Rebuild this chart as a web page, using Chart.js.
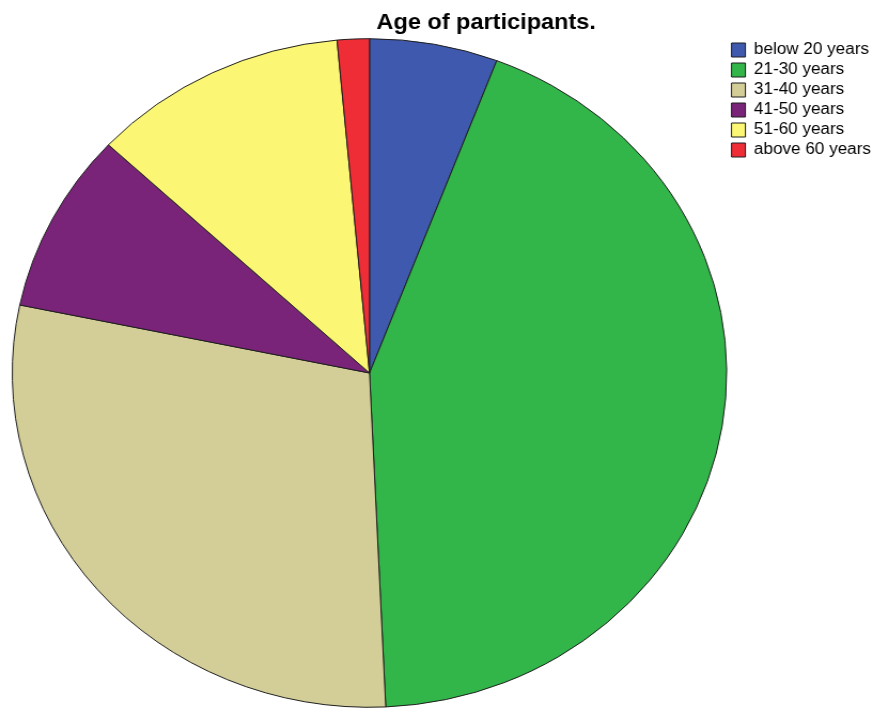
<!DOCTYPE html>
<html>
<head>
<meta charset="utf-8">
<script src="https://cdn.jsdelivr.net/npm/chart.js@4.4.0/dist/chart.umd.min.js"></script>
<style>
  html, body { margin: 0; padding: 0; background: #fff; }
  #ageChart { display: block; }
</style>
</head>
<body>
<!-- inline style so chart.js keeps it: the 817 wide drawing is widened to 873 -->
<canvas id="ageChart" width="817" height="708" style="width:873px;height:708px"></canvas>
<script>
var labels = ["below 20 years", "21-30 years", "31-40 years", "41-50 years", "51-60 years", "above 60 years"];
var counts = [4, 30, 20, 6, 8, 1];
var colors = ["#3e59ad", "#32b64a", "#d3ce97", "#7a2479", "#fbf774", "#ee2d37"];
var chartTitle = "Age of participants.";

// source picture is stretched sideways a bit, so canvas is narrower and css widens it to 873
var titlePlugin = {
  id: 'plainTitle',
  afterDraw: function(chart) {
    var ctx = chart.ctx;
    ctx.save();
    ctx.font = 'bold 22px "Liberation Sans", Arial, sans-serif';
    ctx.fillStyle = '#000';
    ctx.textAlign = 'center';
    ctx.textBaseline = 'alphabetic';
    ctx.fillText(chartTitle, 455, 29);
    ctx.restore();
  }
};

var ctx = document.getElementById("ageChart");
var myChart = new Chart(ctx, {
  type: 'pie',
  data: {
    labels: labels,
    datasets: [{
      data: counts,
      backgroundColor: colors,
      borderColor: '#1e1e1e',
      borderWidth: 1
    }]
  },
  plugins: [titlePlugin],
  options: {
    responsive: false,
    animation: false,
    layout: {
      padding: { left: 11, right: -8, top: 38, bottom: -4 }
    },
    plugins: {
      title: { display: false },
      tooltip: { enabled: false },
      legend: {
        position: 'right',
        align: 'start',
        labels: {
          boxWidth: 13,
          boxHeight: 14,
          padding: 4,
          color: '#000',
          font: { family: '"Liberation Sans", Arial, sans-serif', size: 16 }
        }
      }
    }
  }
});
</script>
</body>
</html>
